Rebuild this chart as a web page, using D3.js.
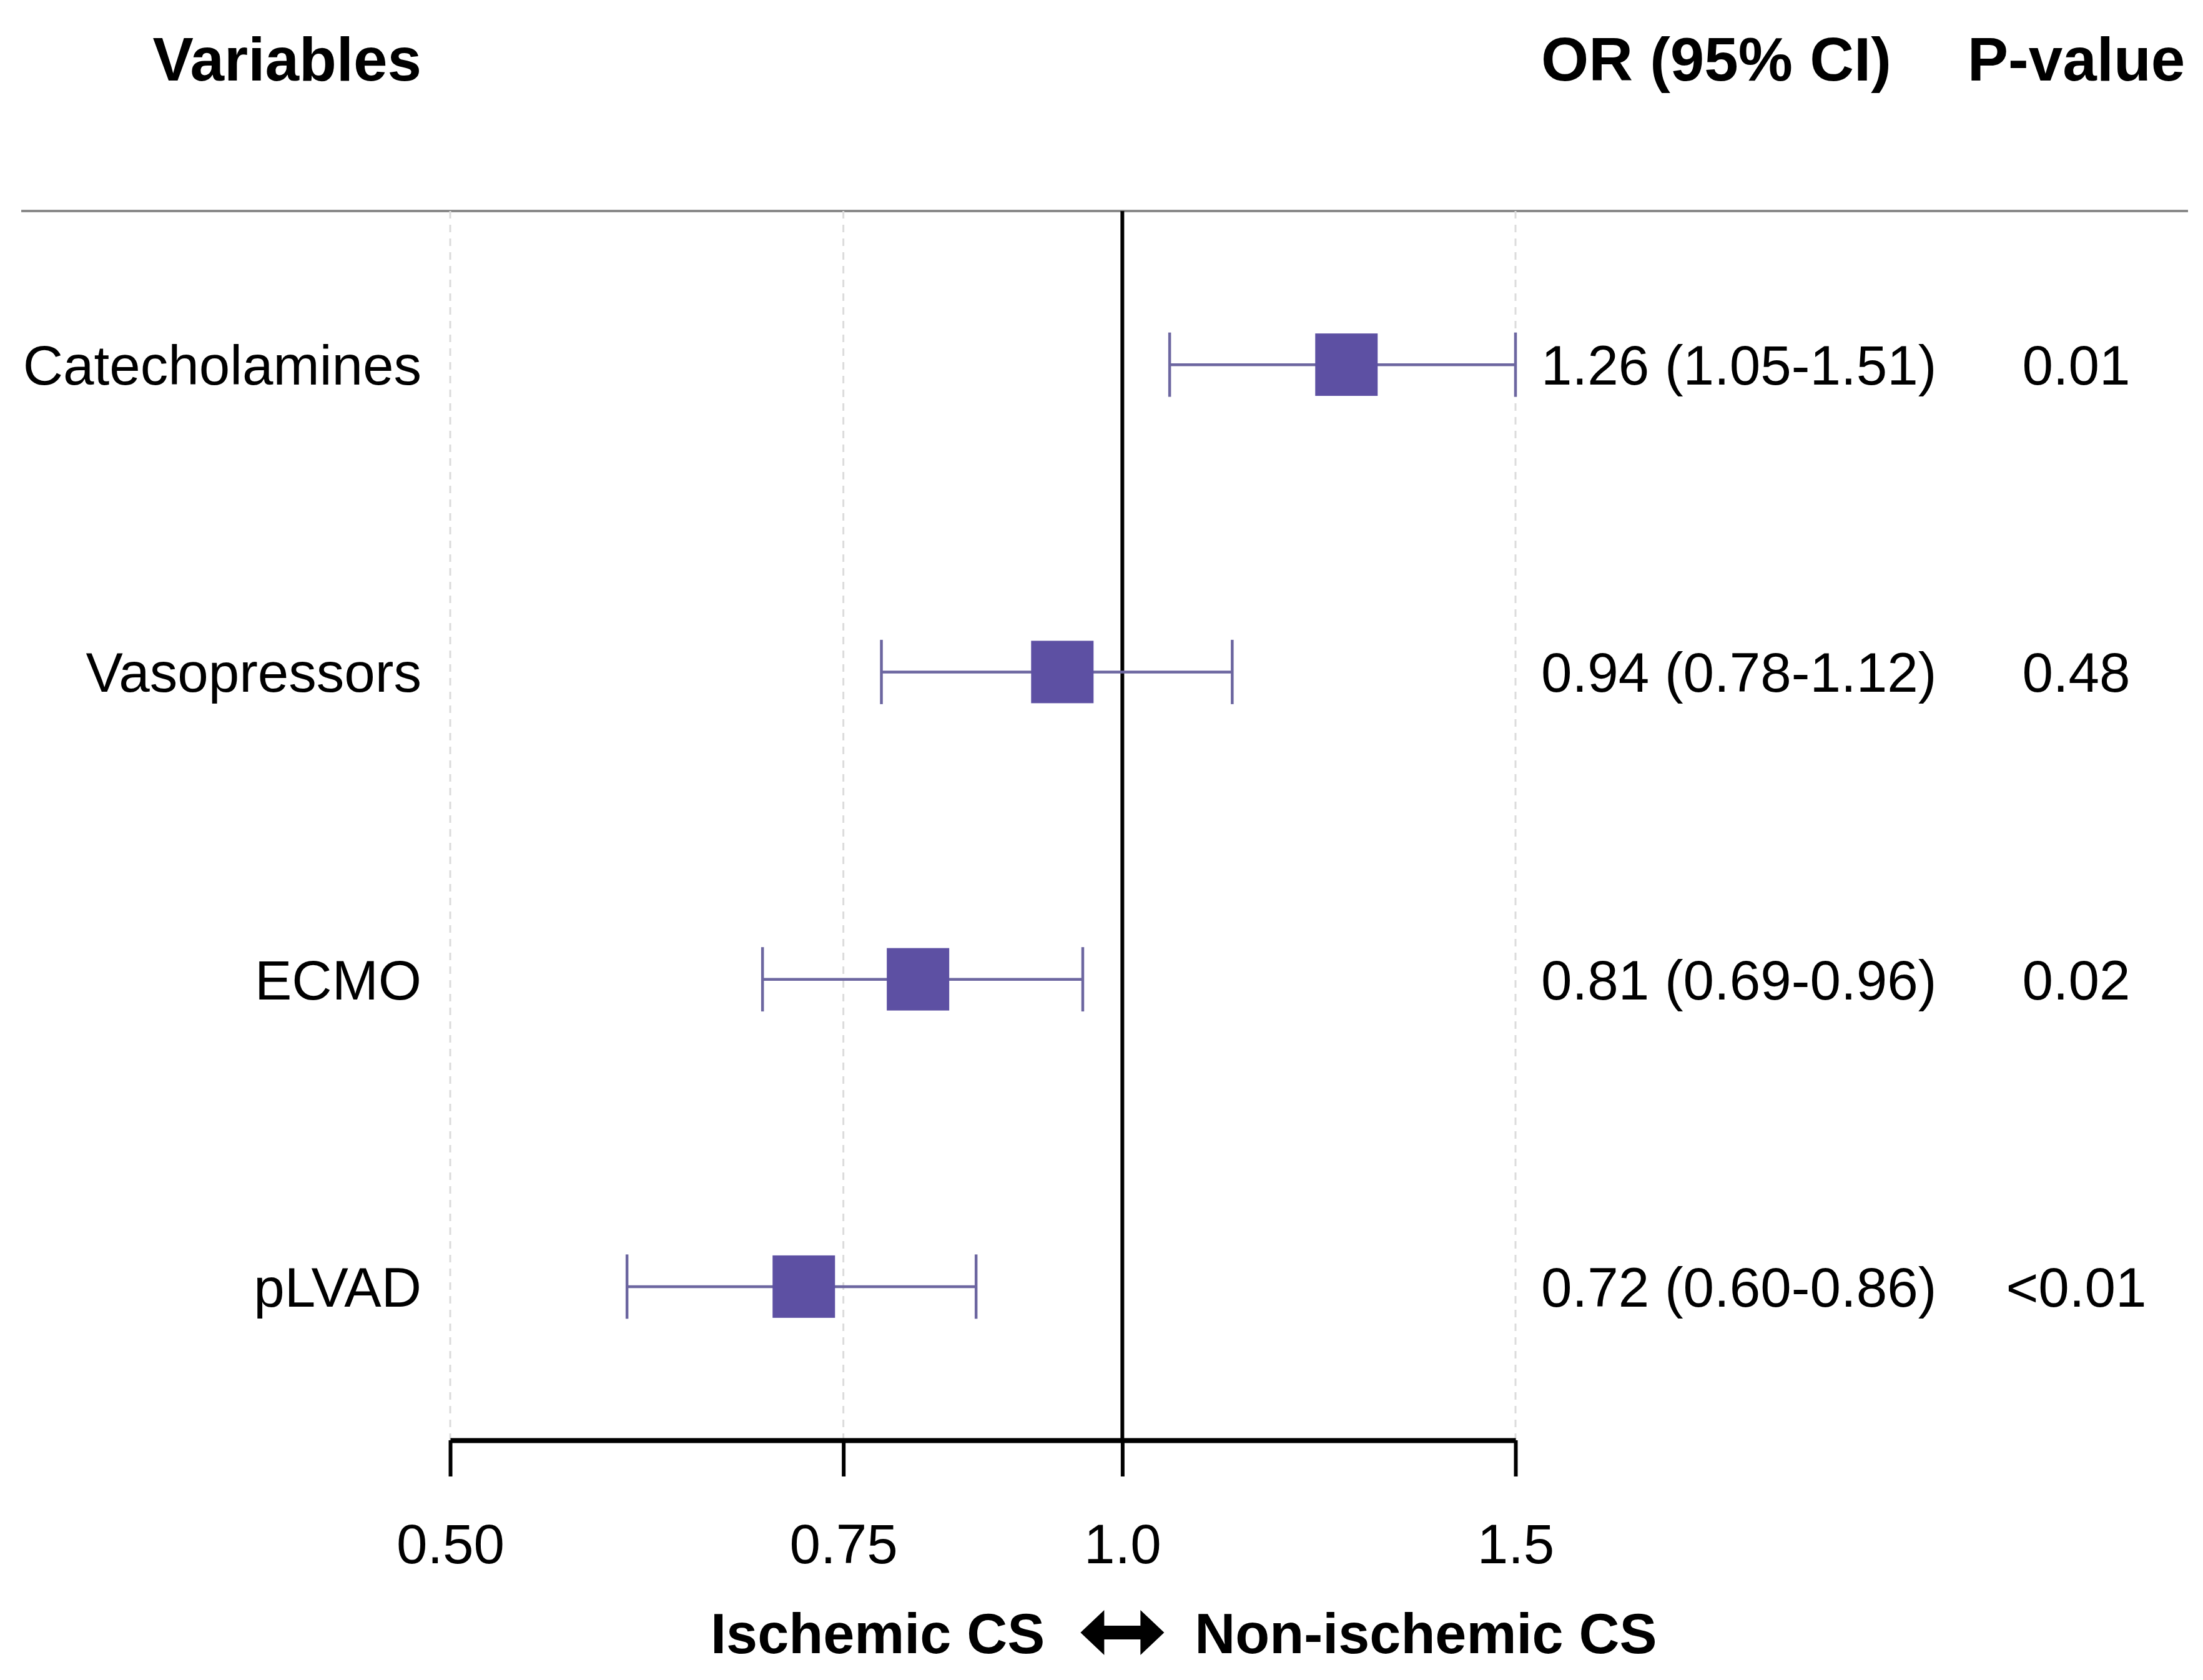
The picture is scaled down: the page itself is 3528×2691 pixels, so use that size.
<!DOCTYPE html>
<html lang="en">
<head>
<meta charset="UTF-8">
<title>Forest plot</title>
<script src="https://d3js.org/d3.v7.min.js"></script>
<style>
    body { margin: 0; padding: 0; background: #fff; }
    svg text { font-family: "Liberation Sans", Arial, Helvetica, sans-serif; fill: #000; }
    .grid { stroke: #dcdcdc; stroke-width: 3; stroke-dasharray: 12 10; }
    .ci { stroke: #6c66a0; stroke-width: 4.5; }
    .box { fill: #5d50a3; }
</style>
</head>
<body>
<div id="chart"></div>
<script>
    const variables = ["Catecholamines", "Vasopressors", "ECMO", "pLVAD"];
    const orValues = [1.26, 0.94, 0.81, 0.72];
    const ciLower = [1.05, 0.78, 0.69, 0.60];
    const ciUpper = [1.51, 1.12, 0.96, 0.86];
    const orLabels = ["1.26 (1.05-1.51)", "0.94 (0.78-1.12)", "0.81 (0.69-0.96)", "0.72 (0.60-0.86)"];
    const pValues = ["0.01", "0.48", "0.02", "<0.01"];
    const xTicks = [0.5, 0.75, 1.0, 1.5];
    const xTickLabels = ["0.50", "0.75", "1.0", "1.5"];

    const width = 3528, height = 2691;
    const plotTop = 338, plotBottom = 2307;

    const svg = d3.select("#chart").append("svg")
        .attr("width", width)
        .attr("height", height);

    const x = d3.scaleLog().domain([0.5, 1.5]).range([721, 2427]);
    const y = d3.scaleBand().domain(variables).range([plotTop, plotBottom]);
    const yc = d => y(d) + y.bandwidth() / 2;

    // headers
    const header = svg.append("g").attr("font-weight", "bold").attr("font-size", 98);
    header.append("text").attr("x", 675).attr("y", 129).attr("text-anchor", "end").text("Variables");
    header.append("text").attr("x", 2468).attr("y", 129).text("OR (95% CI)");
    header.append("text").attr("x", 3325).attr("y", 129).attr("text-anchor", "middle").text("P-value");

    // line under headers
    svg.append("line")
        .attr("x1", 34).attr("x2", 3504)
        .attr("y1", plotTop).attr("y2", plotTop)
        .attr("stroke", "#8a8a8a").attr("stroke-width", 4);

    // dashed grid lines
    svg.append("g").selectAll("line")
        .data(xTicks.filter(t => t !== 1))
        .enter().append("line")
        .attr("class", "grid")
        .attr("x1", d => x(d)).attr("x2", d => x(d))
        .attr("y1", plotTop).attr("y2", plotBottom);

    // reference line at 1
    svg.append("line")
        .attr("x1", x(1)).attr("x2", x(1))
        .attr("y1", plotTop).attr("y2", plotBottom)
        .attr("stroke", "#000").attr("stroke-width", 6);

    // x axis
    const axis = svg.append("g")
        .attr("transform", `translate(0,${plotBottom})`)
        .call(d3.axisBottom(x)
            .tickValues(xTicks)
            .tickFormat((d, i) => xTickLabels[i])
            .tickSize(58)
            .tickSizeOuter(0)
            .tickPadding(76));
    axis.select(".domain").attr("stroke", "#000").attr("stroke-width", 8);
    axis.selectAll(".tick line").attr("stroke", "#000").attr("stroke-width", 6);
    axis.selectAll(".tick text")
        .attr("font-size", 89)
        .attr("font-family", "'Liberation Sans', Arial, sans-serif")
        .attr("fill", "#000");

    // rows
    const rows = variables.map((v, i) => ({
        name: v, or: orValues[i], lo: ciLower[i], hi: ciUpper[i], label: orLabels[i], p: pValues[i]
    }));
    const clamp = v => Math.max(0.5, Math.min(1.5, v));
    const capH = 103, boxS = 100;

    const row = svg.append("g").selectAll("g")
        .data(rows)
        .enter().append("g");

    row.append("line").attr("class", "ci")
        .attr("x1", d => x(clamp(d.lo))).attr("x2", d => x(clamp(d.hi)))
        .attr("y1", d => yc(d.name)).attr("y2", d => yc(d.name));
    row.append("line").attr("class", "ci")
        .attr("x1", d => x(clamp(d.lo))).attr("x2", d => x(clamp(d.lo)))
        .attr("y1", d => yc(d.name) - capH / 2).attr("y2", d => yc(d.name) + capH / 2);
    row.append("line").attr("class", "ci")
        .attr("x1", d => x(clamp(d.hi))).attr("x2", d => x(clamp(d.hi)))
        .attr("y1", d => yc(d.name) - capH / 2).attr("y2", d => yc(d.name) + capH / 2);
    row.append("rect").attr("class", "box")
        .attr("x", d => x(d.or) - boxS / 2)
        .attr("y", d => yc(d.name) - boxS / 2)
        .attr("width", boxS).attr("height", boxS);

    const fs = 89;
    row.append("text")
        .attr("x", 675).attr("y", d => yc(d.name) + fs * 0.36)
        .attr("text-anchor", "end").attr("font-size", fs)
        .text(d => d.name);
    row.append("text")
        .attr("x", 2468).attr("y", d => yc(d.name) + fs * 0.36)
        .attr("font-size", fs)
        .text(d => d.label);
    row.append("text")
        .attr("x", 3325).attr("y", d => yc(d.name) + fs * 0.36)
        .attr("text-anchor", "middle").attr("font-size", fs)
        .text(d => d.p);

    // bottom direction label
    const bottom = svg.append("g").attr("font-weight", "bold").attr("font-size", 90);
    bottom.append("text").attr("x", x(1) - 124).attr("y", 2648).attr("text-anchor", "end").text("Ischemic CS");
    bottom.append("text").attr("x", x(1) + 116).attr("y", 2648).text("Non-ischemic CS");

    // double-headed arrow
    const ax = x(1), ay = 2615, half = 67, head = 38, hh = 36, sh = 11;
    svg.append("path")
        .attr("d", `M${ax - half},${ay} L${ax - half + head},${ay - hh} L${ax - half + head},${ay - sh}
            L${ax + half - head},${ay - sh} L${ax + half - head},${ay - hh} L${ax + half},${ay}
            L${ax + half - head},${ay + hh} L${ax + half - head},${ay + sh}
            L${ax - half + head},${ay + sh} L${ax - half + head},${ay + hh} Z`)
        .attr("fill", "#000");
</script>
</body>
</html>
